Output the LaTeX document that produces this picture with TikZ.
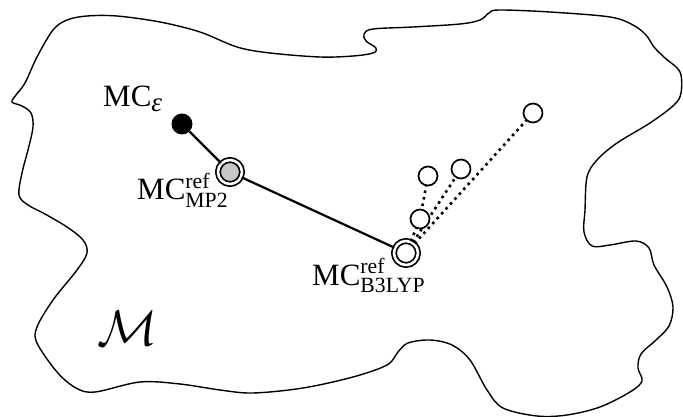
\RequirePackage{fix-cm}
\documentclass[tikz,border=0pt]{standalone}
\usepackage{amsmath}
\usepackage{fontspec}
\setmainfont{Liberation Serif}
\usetikzlibrary{positioning}

\begin{document}
\begin{tikzpicture}
      [x=1pt, y=-1pt,
       lbl/.style={font=\fontsize{31}{36}\selectfont, inner sep=0pt},
       mcdot/.style={circle, fill=black, minimum size=21pt, inner sep=0pt},
       refpt/.style={circle, draw, line width=1.7pt, double=white,
                     double distance=2.6pt, minimum size=24pt, inner sep=0pt},
       trial/.style={circle, draw, fill=white, line width=1.7pt,
                     minimum size=19pt, inner sep=0pt},
       walk/.style={line width=2.6pt, dash pattern=on 2.6pt off 4pt}]
      \useasboundingbox (0,0) rectangle (683,417);

      % the manifold
      \draw[line width=1.4pt] plot[smooth cycle, tension=0.55] coordinates {
        (87,16) (117,16) (160,22) (200,32) (237,47) (270,53) (320,57)
        (353,56) (373,53) (376,48) (366,41) (364,34) (373,29) (413,27)
        (460,24) (480,20) (489,13) (499,10) (550,12) (610,17) (633,25)
        (646,35) (654,47) (665,58) (680,72) (681,93) (674,105) (650,123)
        (617,143) (597,160) (587,177) (585,210) (584,232) (592,246)
        (610,245) (636,241) (649,248) (654,265) (667,287) (673,307)
        (669,326) (656,340) (641,354) (638,368) (642,381) (630,392)
        (600,407) (567,415) (537,416) (503,408) (487,390) (470,360)
        (452,345) (430,340) (408,343) (398,352) (387,365) (353,377)
        (303,388) (253,393) (220,390) (180,384) (140,382) (95,392)
        (76,388) (57,372) (37,343) (37,327) (53,300) (77,270) (87,253)
        (83,240) (67,227) (45,214) (28,205) (19,195) (22,173) (28,150)
        (33,127) (31,113) (22,106) (12,102) (16,95) (25,83) (37,57)
        (53,30) (67,20)};

      \node[lbl] (calm) at (128,328) {\fontsize{50}{56}\selectfont$\mathcal{M}$};

      \node[mcdot] (eps) at (182,124) {};
      \node[refpt, fill=black!22] (mp2) at (230,172) {};
      \node[refpt, fill=white] (b3) at (406,253) {};

      \draw[line width=2.2pt] (eps) -- (mp2);
      \draw[line width=2.2pt] (mp2) -- (b3);

      \draw[walk] (b3) -- (533,113);
      \draw[walk] (b3) -- (461,169);
      \draw[walk] (b3) -- (420,219);
      \draw[walk] (420,219) -- (428,176);
      % trial points go over the dotted walks
      \node[trial] (t1) at (533,113) {};
      \node[trial] (t2) at (461,169) {};
      \node[trial] (t3) at (428,176) {};
      \node[trial] (t4) at (420,219) {};

      \node[lbl, anchor=base west] (lbleps) at (103,107)
        {MC\raisebox{-5pt}{\fontsize{27}{30}\selectfont\itshape ε}};
      \node[lbl, anchor=base west] (lblmp2) at (137,200)
        {MC$^{\text{ref}}_{\text{MP2}}$};
      \node[lbl, anchor=base west] (lblb3) at (312,285)
        {MC$^{\text{ref}}_{\text{B3LYP}}$};
    \end{tikzpicture}
\end{document}
